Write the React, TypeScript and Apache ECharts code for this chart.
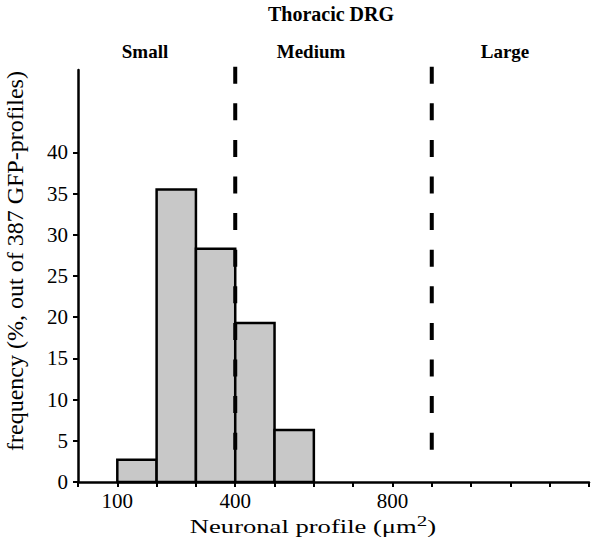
import React, { useEffect, useRef } from "react";
import * as echarts from "echarts";

// Histogram bins: [lower edge, upper edge, frequency %]
const binStarts = [100, 200, 300, 400, 500];
const binEnds = [200, 300, 400, 500, 600];
const frequencies = [2.7, 35.5, 28.3, 19.3, 6.3];

// Size-class divider positions (µm²)
const dividers = [400, 900];

const yTickValues = [0, 5, 10, 15, 20, 25, 30, 35, 40];
const xLabelValues = [100, 400, 800];

const classLabels = ["Small", "Medium", "Large"];

const FONT = "'Liberation Serif', 'Times New Roman', serif";

export default function App() {
  const ref = useRef<HTMLDivElement>(null);

  useEffect(() => {
    if (!ref.current) return;
    const chart = echarts.init(ref.current, null, { renderer: "svg" });

    const binData = binStarts.map((s, i) => [s, binEnds[i], frequencies[i]]);

    chart.setOption({
      animation: false,
      backgroundColor: "#ffffff",
      grid: { left: 78, right: 12, top: 70, bottom: 61 },
      xAxis: {
        type: "value",
        min: 0,
        max: 1300,
        interval: 100,
        splitLine: { show: false },
        axisLine: { show: true, onZero: false, lineStyle: { color: "#000", width: 2.5 } },
        axisTick: { show: true, length: 5, lineStyle: { color: "#000", width: 2 } },
        axisLabel: {
          customValues: xLabelValues,
          color: "#000",
          fontFamily: FONT,
          fontSize: 21,
          margin: 8,
        },
      },
      yAxis: {
        type: "value",
        min: 0,
        max: 50,
        interval: 5,
        splitLine: { show: false },
        axisLine: { show: true, lineStyle: { color: "#000", width: 2.5 } },
        axisTick: {
          show: true,
          length: 5,
          customValues: yTickValues,
          lineStyle: { color: "#000", width: 2 },
        },
        axisLabel: {
          customValues: yTickValues,
          color: "#000",
          fontFamily: FONT,
          fontSize: 21,
          margin: 10,
        },
      },
      series: [
        {
          type: "custom",
          data: binData,
          renderItem: (params: any, api: any) => {
            const p0 = api.coord([api.value(0), api.value(2)]);
            const p1 = api.coord([api.value(1), 0]);
            return {
              type: "rect",
              shape: { x: p0[0], y: p0[1], width: p1[0] - p0[0], height: p1[1] - p0[1] },
              style: { fill: "#c8c8c8", stroke: "#000", lineWidth: 2.5 },
            };
          },
          z: 2,
        },
        {
          type: "custom",
          data: dividers.map((d) => [d]),
          clip: false,
          renderItem: (params: any, api: any) => {
            const top = api.coord([api.value(0), 50.4]);
            const bottom = api.coord([api.value(0), 3.85]);
            return {
              type: "line",
              shape: { x1: top[0], y1: top[1], x2: bottom[0], y2: bottom[1] },
              style: { stroke: "#000", lineWidth: 4, lineDash: [17, 19.6] },
            };
          },
          z: 3,
        },
      ],
      graphic: [
        {
          type: "text",
          x: 331,
          y: 14,
          style: {
            text: "Thoracic DRG",
            fontFamily: FONT,
            fontWeight: "bold",
            fontSize: 20,
            fill: "#000",
            align: "center",
            verticalAlign: "middle",
          },
        },
        ...classLabels.map((t, i) => ({
          type: "text",
          x: [145, 311, 505][i],
          y: 51,
          style: {
            text: t,
            fontFamily: FONT,
            fontWeight: "bold",
            fontSize: 19,
            fill: "#000",
            align: "center",
            verticalAlign: "middle",
          },
        })),
        {
          type: "text",
          x: 15,
          y: 261,
          rotation: Math.PI / 2,
          style: {
            text: "frequency (%, out of 387 GFP-profiles)",
            fontFamily: FONT,
            fontSize: 24,
            fill: "#000",
            align: "center",
            verticalAlign: "middle",
          },
        },
        {
          type: "text",
          x: 313,
          y: 526,
          scaleX: 1.4,
          style: {
            text: "{a|Neuronal profile (μm}{s|2}{a|)}",
            fill: "#000",
            align: "center",
            verticalAlign: "middle",
            rich: {
              a: { fontFamily: FONT, fontSize: 19, fill: "#000" },
              s: { fontFamily: FONT, fontSize: 15, fill: "#000", padding: [0, 0, 9, 0] },
            },
          },
        },
      ],
    });

    return () => chart.dispose();
  }, []);

  return (
    <div
      ref={ref}
      style={{ position: "fixed", left: 0, top: 0, width: 601, height: 543 }}
    />
  );
}
